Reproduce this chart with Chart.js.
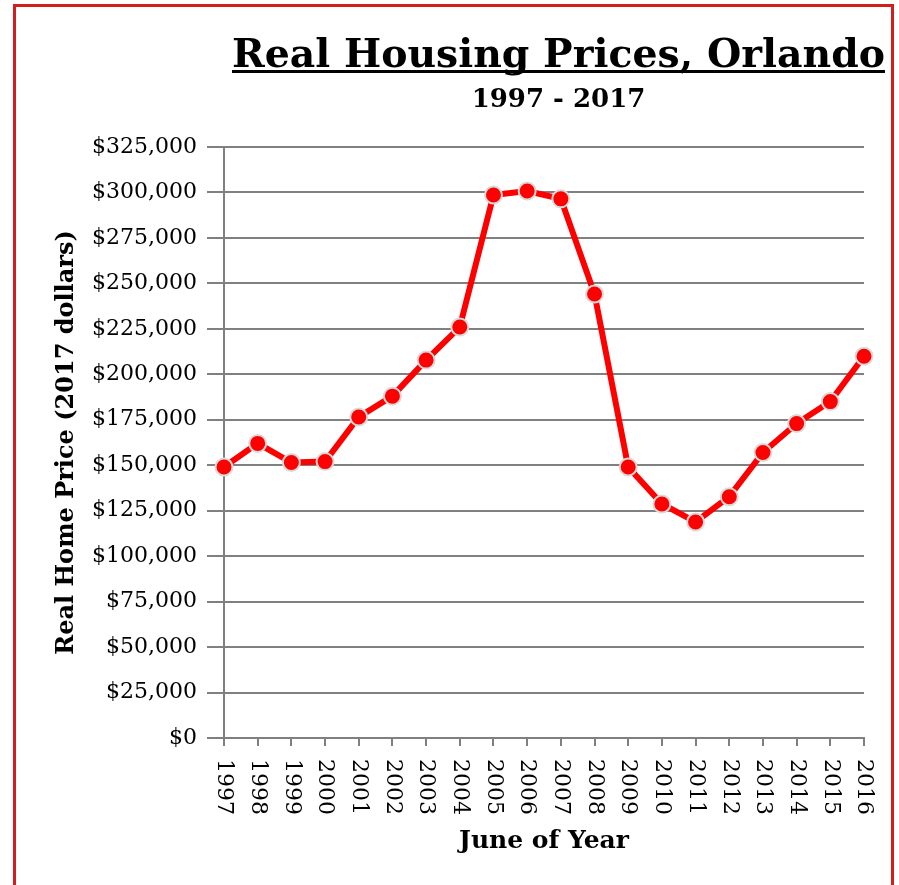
<!DOCTYPE html>
<html>
<head>
<meta charset="utf-8">
<script src="https://cdn.jsdelivr.net/npm/chart.js@4.4.1/dist/chart.umd.min.js"></script>
<style>
  html, body { margin: 0; padding: 0; background: #fff; overflow: hidden; }
  #frame {
    position: absolute; left: 13px; top: 4px; width: 875px; height: 900px;
    border: 3px solid #d11f1f; border-bottom: none;
  }
  #housingchart { position: absolute; left: 0; top: 0; }
</style>
</head>
<body>
<div id="frame"></div>
<canvas id="housingchart" width="899" height="885"></canvas>
<script>
const years = ['1997', '1998', '1999', '2000', '2001', '2002', '2003', '2004', '2005', '2006',
               '2007', '2008', '2009', '2010', '2011', '2012', '2013', '2014', '2015', '2016'];
const realPrices = [149000, 162000, 151500, 152000, 176500, 188000, 207800, 226000, 298600, 300800,
                    296500, 244200, 149000, 128700, 118800, 132700, 157000, 172900, 185000, 209900];
const chartTitle = 'Real Housing Prices, Orlando';
const chartSubtitle = '1997 - 2017';
const yTitle = 'Real Home Price (2017 dollars)';
const xTitle = 'June of Year';

const serif = '"DejaVu Serif", "Liberation Serif", serif';

// titles are drawn by hand so the underline and off-centre placement match
const headerPlugin = {
    id: 'header',
    afterDraw(chart) {
        const ctx = chart.ctx;
        ctx.save();
        ctx.fillStyle = '#000';
        ctx.textAlign = 'center';
        ctx.textBaseline = 'alphabetic';
        ctx.font = 'bold 40px ' + serif;
        const w = Math.min(ctx.measureText(chartTitle).width, 653);
        ctx.fillText(chartTitle, 558.5, 67, 653);
        ctx.fillRect(558.5 - w / 2, 70, w, 3);
        ctx.font = 'bold 26px ' + serif;
        ctx.fillText(chartSubtitle, 558.5, 107);
        ctx.restore();
    }
};

// x tick labels read top to bottom (rotated clockwise)
const downLabels = {
    id: 'downLabels',
    afterDraw(chart) {
        const scale = chart.scales.x;
        const ctx = chart.ctx;
        ctx.save();
        ctx.fillStyle = '#000';
        ctx.font = '22px ' + serif;
        ctx.textAlign = 'left';
        ctx.textBaseline = 'middle';
        scale.ticks.forEach((t, i) => {
            ctx.save();
            ctx.translate(scale.getPixelForTick(i), 759);
            ctx.rotate(Math.PI / 2);
            ctx.fillText(years[i], 0, 0);
            ctx.restore();
        });
        ctx.restore();
    }
};

const ctx = document.getElementById('housingchart').getContext('2d');
new Chart(ctx, {
    type: 'line',
    data: {
        labels: years,
        datasets: [{
            label: 'Real Home Price',
            data: realPrices,
            borderColor: '#ff0000',
            borderWidth: 6,
            tension: 0,
            pointRadius: 8.5,
            pointBackgroundColor: '#ff0000',
            pointBorderColor: '#d9d9d9',
            pointBorderWidth: 2,
        }]
    },
    options: {
        responsive: false,
        animation: false,
        devicePixelRatio: 1,
        layout: { padding: { left: 50, right: 35, top: 147, bottom: 0 } },
        plugins: {
            legend: { display: false },
            tooltip: { enabled: false },
        },
        scales: {
            x: {
                afterFit(scale) { scale.height = 147; },
                grid: {
                    drawOnChartArea: false,
                    drawTicks: true,
                    tickLength: 8,
                    color: '#808080',
                    lineWidth: 2,
                },
                border: { color: '#808080', width: 2 },
                ticks: {
                    color: 'rgba(0,0,0,0)',
                    autoSkip: false,
                    minRotation: 90,
                    maxRotation: 90,
                    font: { family: serif, size: 22 },
                },
                title: {
                    display: true,
                    text: xTitle,
                    color: '#000',
                    font: { family: serif, size: 25, weight: 'bold' },
                    padding: { top: 0, bottom: 29 },
                },
            },
            y: {
                min: 0,
                max: 325000,
                afterFit(scale) { scale.width = 174; },
                grid: {
                    color: '#808080',
                    lineWidth: 2,
                    tickLength: 17,
                },
                border: { color: '#808080', width: 2 },
                ticks: {
                    stepSize: 25000,
                    padding: 10,
                    color: '#000',
                    font: { family: serif, size: 22 },
                    callback: (v) => '$' + v.toLocaleString('en-US'),
                },
                title: {
                    display: true,
                    text: yTitle,
                    color: '#000',
                    font: { family: serif, size: 24, weight: 'bold' },
                    padding: { top: 2, bottom: 0 },
                },
            },
        },
    },
    plugins: [headerPlugin, downLabels],
});
</script>
</body>
</html>
